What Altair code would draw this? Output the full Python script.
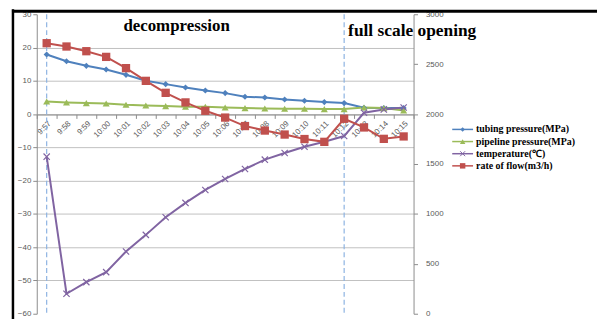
import altair as alt
import pandas as pd

times = ["9:57", "9:58", "9:59", "10:00", "10:01", "10:02", "10:03", "10:04", "10:05", "10:06",
         "10:07", "10:08", "10:09", "10:10", "10:11", "10:12", "10:13", "10:14", "10:15"]
tubing = [17.9, 15.9, 14.5, 13.4, 11.8, 10.0, 9.0, 8.0, 7.1, 6.3, 5.2, 5.0, 4.4, 4.0, 3.6, 3.3, 1.9, 1.8, 1.8]
pipeline = [3.8, 3.5, 3.3, 3.2, 2.8, 2.6, 2.4, 2.2, 2.2, 2.0, 1.8, 1.7, 1.6, 1.6, 1.5, 1.5, 2.0, 1.8, 1.1]
temperature = [-12.8, -54.0, -50.5, -47.5, -41.3, -36.3, -31.0, -26.7, -22.8, -19.5,
               -16.5, -13.7, -11.7, -9.8, -8.3, -6.6, 0.4, 1.4, 2.0]
flow = [2710, 2677, 2630, 2573, 2460, 2333, 2213, 2117, 2033, 1965,
        1880, 1835, 1795, 1750, 1722, 1953, 1866, 1752, 1776]

series_names = ["tubing pressure(MPa)", "pipeline pressure(MPa)", "temperature(℃)", "rate of flow(m3/h)"]
series_colors = ["#4f81bd", "#9bbb59", "#8064a2", "#c0504d"]
phase_labels = ["decompression", "full scale opening"]
phase_times = ["10:04", "10:12"]
phase_level = [24.9, 23.4]
divider_times = ["9:57", "10:12"]
left_ticks = list(range(-60, 31, 10))
right_ticks = list(range(0, 3001, 500))

W, H = 380, 302
XPATH = "M-1,-1L1,1M-1,1L1,-1"
marker_shapes = ["diamond", "triangle-up", XPATH, "square"]
marker_filled = [True, True, False, True]
marker_sizes = [38, 50, 40, 70]
legend_sizes = [20, 30, 25, 30]

left_df = pd.DataFrame({
    "t": times * 3,
    "series": [n for n in series_names[:3] for _ in times],
    "value": tubing + pipeline + temperature,
})
right_df = pd.DataFrame({"t": times, "series": series_names[3], "value": flow})

AX_FONT = "Liberation Sans"
AX_COL = "#595959"
DOM_COL = "#8c8c8c"

x_enc = alt.X(
    "t:N", sort=times, bandPosition=0.5,
    scale=alt.Scale(type="band", domain=times, paddingInner=0, paddingOuter=0),
    axis=alt.Axis(title=None, labelAngle=-45, offset=-201, tickBand="extent", grid=False,
                  labelFont=AX_FONT, labelFontSize=8, labelColor=AX_COL,
                  domainColor=DOM_COL, tickColor=DOM_COL, tickSize=4, labelPadding=1),
)
color_enc = alt.Color("series:N", scale=alt.Scale(domain=series_names, range=series_colors), legend=None)

left_scale = alt.Scale(domain=[-60, 30], nice=False, zero=False)
left_axis = alt.Axis(orient="left", title=None, values=left_ticks, format="d",
                     labelFont=AX_FONT, labelFontSize=8, labelColor=AX_COL,
                     domainColor=DOM_COL, tickColor=DOM_COL, tickSize=4, labelPadding=2,
                     grid=True, gridColor="#c0c0c0", gridWidth=1,
                     gridOpacity={"condition": {"test": "datum.value == 30 || datum.value == -60", "value": 0},
                                  "value": 1})
y_left = alt.Y("value:Q", scale=left_scale, axis=left_axis)
y_right = alt.Y(
    "value:Q", scale=alt.Scale(domain=[0, 3000], nice=False),
    axis=alt.Axis(orient="right", title=None, values=right_ticks, format="d", grid=False,
                  labelFont=AX_FONT, labelFontSize=8, labelColor=AX_COL,
                  domainColor=DOM_COL, tickColor=DOM_COL, tickSize=4, labelPadding=8),
)

# left-axis group
left_lines = alt.Chart(left_df).mark_line(strokeWidth=2).encode(x=x_enc, y=y_left, color=color_enc)
left_marks = []
for i in range(3):
    left_marks.append(
        alt.Chart(left_df).transform_filter(alt.datum.series == series_names[i])
        .mark_point(shape=marker_shapes[i], filled=marker_filled[i], size=marker_sizes[i],
                    opacity=1, strokeWidth=1.2)
        .encode(x=x_enc, y=y_left, color=color_enc)
    )
div_df = pd.DataFrame({"t": divider_times, "value": [30] * len(divider_times), "bottom": [-60] * len(divider_times)})
dividers = alt.Chart(div_df).mark_rule(
    color="#8db3e2", strokeDash=[5, 3], strokeWidth=1.2
).encode(x=x_enc, y=y_left, y2="bottom:Q")

phase_a = alt.Chart(pd.DataFrame({"t": phase_times[:1], "label": phase_labels[:1], "value": phase_level[:1]})).mark_text(
    font="Liberation Serif", fontWeight="bold", fontSize=17, color="black", baseline="alphabetic",
    align="center", dx=-9
).encode(x=x_enc, y=y_left, text="label:N")
phase_b = alt.Chart(pd.DataFrame({"t": phase_times[1:], "label": phase_labels[1:], "value": phase_level[1:]})).mark_text(
    font="Liberation Serif", fontWeight="bold", fontSize=17.5, color="black", baseline="alphabetic",
    align="left", dx=4
).encode(x=x_enc, y=y_left, text="label:N")

left_group = alt.layer(dividers, left_lines, *left_marks, phase_a, phase_b)

# right-axis group
right_line = alt.Chart(right_df).mark_line(strokeWidth=2).encode(x=x_enc, y=y_right, color=color_enc)
right_mark = alt.Chart(right_df).mark_point(shape="square", filled=True, size=marker_sizes[3], opacity=1).encode(
    x=x_enc, y=y_right, color=color_enc)
right_group = alt.layer(right_line, right_mark)

# legend
leg_df = pd.DataFrame({"series": series_names})
y_leg = alt.Y("series:N", sort=series_names, axis=None,
              scale=alt.Scale(type="point", domain=series_names, range=[110, 159]))
leg_lines = alt.Chart(leg_df).mark_rule(strokeWidth=1.5).encode(
    x=alt.value(419), x2=alt.value(440), y=y_leg, color=color_enc)
leg_marks = []
for i in range(4):
    leg_marks.append(
        alt.Chart(leg_df).transform_filter(alt.datum.series == series_names[i])
        .mark_point(shape=marker_shapes[i], filled=marker_filled[i], size=legend_sizes[i],
                    opacity=1, strokeWidth=1)
        .encode(x=alt.value(429.5), y=y_leg, color=color_enc)
    )
leg_text = alt.Chart(leg_df).mark_text(
    align="left", baseline="middle", font="Liberation Serif", fontWeight="bold", fontSize=10, color="black"
).encode(x=alt.value(443), y=y_leg, text="series:N")
legend_group = alt.layer(leg_lines, *leg_marks, leg_text)

# frame of the picture
frame_df = pd.DataFrame({"k": [0]})
frame_top = alt.Chart(frame_df).mark_rule(color="black", strokeWidth=3).encode(
    x=alt.value(-25), x2=alt.value(570), y=alt.value(-3), y2=alt.value(-3))
frame_left = alt.Chart(frame_df).mark_rule(color="black", strokeWidth=2.5).encode(
    x=alt.value(-24), y=alt.value(-5), y2=alt.value(310))

chart = alt.layer(left_group, right_group, legend_group, frame_top, frame_left).resolve_scale(
    y="independent"
).properties(
    width=W, height=H,
    padding={"left": 29, "top": 5, "right": 185, "bottom": 4},
    autosize=alt.AutoSizeParams(type="none"),
).configure_view(stroke=None)

chart.save("out.html", embed_options={"renderer": "svg", "actions": False})
